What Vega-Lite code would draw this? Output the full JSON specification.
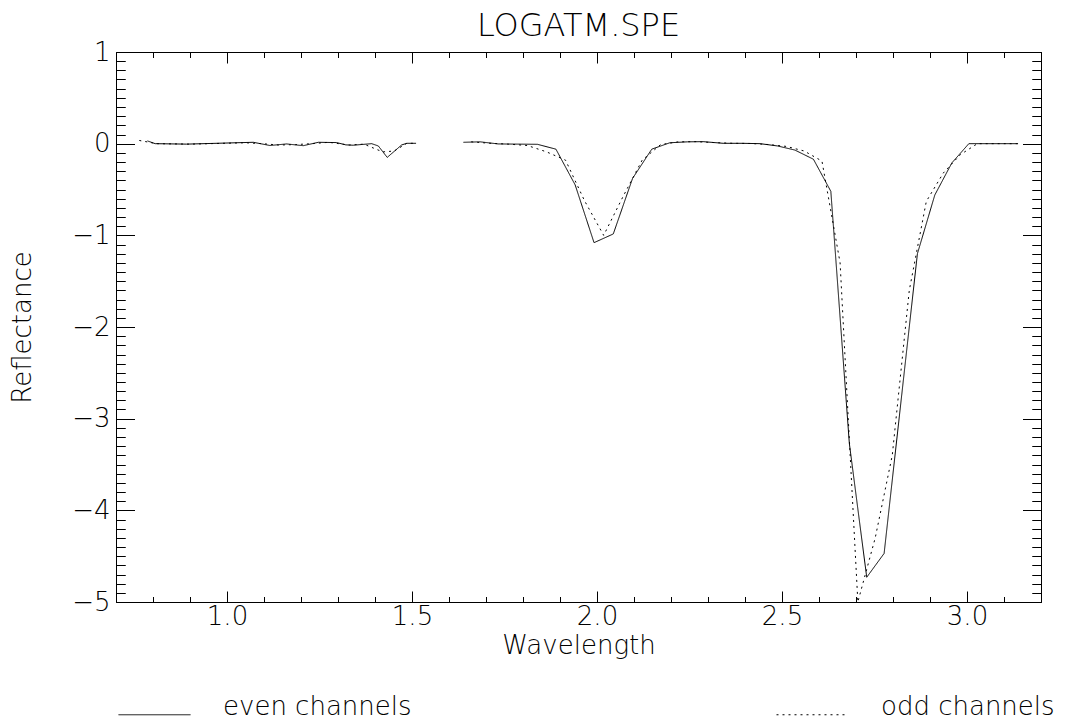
{
  "$schema": "https://vega.github.io/schema/vega-lite/v6.json",
  "width": 925,
  "height": 550,
  "autosize": "none",
  "padding": {"left": 116, "top": 52, "right": 38, "bottom": 120},
  "background": "white",
  "title": {"text": "LOGATM.SPE", "font": "DejaVu Sans", "fontSize": 32, "fontWeight": 200, "color": "black", "frame": "group", "anchor": "middle", "offset": -4},
  "data": {"values": [
    {"series": "even channels", "seg": 1, "w": 0.785, "r": 0.03},
    {"series": "even channels", "seg": 1, "w": 0.806, "r": 0.0},
    {"series": "even channels", "seg": 1, "w": 0.891, "r": -0.005},
    {"series": "even channels", "seg": 1, "w": 1.071, "r": 0.015},
    {"series": "even channels", "seg": 1, "w": 1.116, "r": -0.02},
    {"series": "even channels", "seg": 1, "w": 1.161, "r": -0.003},
    {"series": "even channels", "seg": 1, "w": 1.206, "r": -0.022},
    {"series": "even channels", "seg": 1, "w": 1.247, "r": 0.015},
    {"series": "even channels", "seg": 1, "w": 1.296, "r": 0.012},
    {"series": "even channels", "seg": 1, "w": 1.321, "r": -0.013},
    {"series": "even channels", "seg": 1, "w": 1.341, "r": -0.017},
    {"series": "even channels", "seg": 1, "w": 1.391, "r": 0.0},
    {"series": "even channels", "seg": 1, "w": 1.409, "r": -0.025},
    {"series": "even channels", "seg": 1, "w": 1.433, "r": -0.15},
    {"series": "even channels", "seg": 1, "w": 1.472, "r": -0.014},
    {"series": "even channels", "seg": 1, "w": 1.486, "r": 0.004},
    {"series": "even channels", "seg": 1, "w": 1.511, "r": 0.004},
    {"series": "even channels", "seg": 2, "w": 1.639, "r": 0.015},
    {"series": "even channels", "seg": 2, "w": 1.684, "r": 0.02},
    {"series": "even channels", "seg": 2, "w": 1.733, "r": -0.003},
    {"series": "even channels", "seg": 2, "w": 1.786, "r": -0.005},
    {"series": "even channels", "seg": 2, "w": 1.839, "r": -0.007},
    {"series": "even channels", "seg": 2, "w": 1.889, "r": -0.06},
    {"series": "even channels", "seg": 2, "w": 1.941, "r": -0.45},
    {"series": "even channels", "seg": 2, "w": 1.992, "r": -1.08},
    {"series": "even channels", "seg": 2, "w": 2.044, "r": -0.985},
    {"series": "even channels", "seg": 2, "w": 2.096, "r": -0.38},
    {"series": "even channels", "seg": 2, "w": 2.148, "r": -0.06},
    {"series": "even channels", "seg": 2, "w": 2.197, "r": 0.01},
    {"series": "even channels", "seg": 2, "w": 2.245, "r": 0.02},
    {"series": "even channels", "seg": 2, "w": 2.287, "r": 0.022},
    {"series": "even channels", "seg": 2, "w": 2.341, "r": 0.004},
    {"series": "even channels", "seg": 2, "w": 2.392, "r": 0.004},
    {"series": "even channels", "seg": 2, "w": 2.441, "r": 0.0},
    {"series": "even channels", "seg": 2, "w": 2.488, "r": -0.025},
    {"series": "even channels", "seg": 2, "w": 2.535, "r": -0.07},
    {"series": "even channels", "seg": 2, "w": 2.585, "r": -0.17},
    {"series": "even channels", "seg": 2, "w": 2.632, "r": -0.52},
    {"series": "even channels", "seg": 2, "w": 2.682, "r": -3.27},
    {"series": "even channels", "seg": 2, "w": 2.729, "r": -4.73},
    {"series": "even channels", "seg": 2, "w": 2.776, "r": -4.47},
    {"series": "even channels", "seg": 2, "w": 2.866, "r": -1.2},
    {"series": "even channels", "seg": 2, "w": 2.913, "r": -0.56},
    {"series": "even channels", "seg": 2, "w": 2.959, "r": -0.21},
    {"series": "even channels", "seg": 2, "w": 3.005, "r": 0.0},
    {"series": "even channels", "seg": 2, "w": 3.052, "r": 0.0},
    {"series": "even channels", "seg": 2, "w": 3.098, "r": 0.0},
    {"series": "even channels", "seg": 2, "w": 3.138, "r": 0.0},
    {"series": "odd channels", "seg": 1, "w": 0.763, "r": 0.035},
    {"series": "odd channels", "seg": 1, "w": 0.81, "r": 0.0},
    {"series": "odd channels", "seg": 1, "w": 0.9, "r": -0.005},
    {"series": "odd channels", "seg": 1, "w": 1.05, "r": 0.01},
    {"series": "odd channels", "seg": 1, "w": 1.095, "r": 0.0},
    {"series": "odd channels", "seg": 1, "w": 1.14, "r": -0.015},
    {"series": "odd channels", "seg": 1, "w": 1.185, "r": -0.01},
    {"series": "odd channels", "seg": 1, "w": 1.23, "r": 0.0},
    {"series": "odd channels", "seg": 1, "w": 1.275, "r": 0.015},
    {"series": "odd channels", "seg": 1, "w": 1.33, "r": -0.015},
    {"series": "odd channels", "seg": 1, "w": 1.37, "r": -0.005},
    {"series": "odd channels", "seg": 1, "w": 1.421, "r": -0.09},
    {"series": "odd channels", "seg": 1, "w": 1.452, "r": -0.08},
    {"series": "odd channels", "seg": 1, "w": 1.486, "r": 0.004},
    {"series": "odd channels", "seg": 1, "w": 1.511, "r": 0.004},
    {"series": "odd channels", "seg": 2, "w": 1.66, "r": 0.02},
    {"series": "odd channels", "seg": 2, "w": 1.708, "r": 0.005},
    {"series": "odd channels", "seg": 2, "w": 1.76, "r": -0.005},
    {"series": "odd channels", "seg": 2, "w": 1.812, "r": -0.02},
    {"series": "odd channels", "seg": 2, "w": 1.864, "r": -0.09},
    {"series": "odd channels", "seg": 2, "w": 1.915, "r": -0.18},
    {"series": "odd channels", "seg": 2, "w": 1.966, "r": -0.62},
    {"series": "odd channels", "seg": 2, "w": 2.018, "r": -1.0},
    {"series": "odd channels", "seg": 2, "w": 2.07, "r": -0.58},
    {"series": "odd channels", "seg": 2, "w": 2.122, "r": -0.18},
    {"series": "odd channels", "seg": 2, "w": 2.172, "r": -0.01},
    {"series": "odd channels", "seg": 2, "w": 2.22, "r": 0.02},
    {"series": "odd channels", "seg": 2, "w": 2.268, "r": 0.022},
    {"series": "odd channels", "seg": 2, "w": 2.316, "r": 0.012},
    {"series": "odd channels", "seg": 2, "w": 2.366, "r": 0.004},
    {"series": "odd channels", "seg": 2, "w": 2.416, "r": 0.002},
    {"series": "odd channels", "seg": 2, "w": 2.465, "r": -0.01},
    {"series": "odd channels", "seg": 2, "w": 2.512, "r": -0.03},
    {"series": "odd channels", "seg": 2, "w": 2.56, "r": -0.08},
    {"series": "odd channels", "seg": 2, "w": 2.608, "r": -0.19},
    {"series": "odd channels", "seg": 2, "w": 2.657, "r": -1.3},
    {"series": "odd channels", "seg": 2, "w": 2.705, "r": -5.0},
    {"series": "odd channels", "seg": 2, "w": 2.752, "r": -4.3},
    {"series": "odd channels", "seg": 2, "w": 2.798, "r": -3.4},
    {"series": "odd channels", "seg": 2, "w": 2.844, "r": -1.6},
    {"series": "odd channels", "seg": 2, "w": 2.89, "r": -0.63},
    {"series": "odd channels", "seg": 2, "w": 2.936, "r": -0.32},
    {"series": "odd channels", "seg": 2, "w": 2.982, "r": -0.12},
    {"series": "odd channels", "seg": 2, "w": 3.028, "r": 0.0},
    {"series": "odd channels", "seg": 2, "w": 3.075, "r": 0.0},
    {"series": "odd channels", "seg": 2, "w": 3.12, "r": 0.0},
    {"series": "odd channels", "seg": 2, "w": 3.138, "r": 0.0}
  ]},
  "layer": [
    {
      "mark": {"type": "line", "color": "black", "strokeWidth": 1, "clip": true},
      "encoding": {
        "x": {"field": "w", "type": "quantitative", "scale": {"domain": [0.7, 3.2], "nice": false, "zero": false},
          "axis": {"orient": "bottom", "values": [1, 1.5, 2, 2.5, 3], "format": ".1f", "tickSize": -11, "labelPadding": 12, "domain": true,
            "title": "Wavelength", "titlePadding": 3}},
        "y": {"field": "r", "type": "quantitative", "scale": {"domain": [-5, 1], "nice": false, "zero": false},
          "axis": {"orient": "left", "values": [-5, -4, -3, -2, -1, 0, 1], "format": "d", "tickSize": -18.5, "labelPadding": 24.5, "domain": true,
            "title": "Reflectance", "titlePadding": 36}},
        "strokeDash": {"field": "series", "type": "nominal",
          "scale": {"domain": ["even channels", "odd channels"], "range": [[1, 0], [2, 4]]},
          "legend": {"orient": "none", "legendX": 2, "legendY": 626, "direction": "horizontal", "columns": 2, "columnPadding": 362,
            "title": null, "symbolType": "stroke", "symbolSize": 5184, "symbolStrokeWidth": 1, "symbolStrokeColor": "black",
            "labelFont": "DejaVu Sans", "labelFontSize": 26, "labelFontWeight": 200, "labelColor": "black", "labelOffset": 32, "labelBaseline": "alphabetic", "labelLimit": 0, "padding": 0}},
        "detail": {"field": "seg", "type": "nominal"}
      }
    },
    {
      "mark": {"type": "line", "strokeOpacity": 0},
      "encoding": {
        "x": {"field": "w", "type": "quantitative", "scale": {"domain": [0.7, 3.2], "nice": false, "zero": false},
          "axis": {"orient": "bottom", "values": [0.7, 0.8, 0.9, 1.0, 1.1, 1.2, 1.3, 1.4, 1.5, 1.6, 1.7, 1.8, 1.9, 2.0, 2.1, 2.2, 2.3, 2.4, 2.5, 2.6, 2.7, 2.8, 2.9, 3.0, 3.1, 3.2], "tickSize": -5.5, "labels": false, "domain": false, "title": null}},
        "y": {"field": "r", "type": "quantitative", "scale": {"domain": [-5, 1], "nice": false, "zero": false},
          "axis": {"orient": "left", "values": [-5.0, -4.9, -4.8, -4.7, -4.6, -4.5, -4.4, -4.3, -4.2, -4.1, -4.0, -3.9, -3.8, -3.7, -3.6, -3.5, -3.4, -3.3, -3.2, -3.1, -3.0, -2.9, -2.8, -2.7, -2.6, -2.5, -2.4, -2.3, -2.2, -2.1, -2.0, -1.9, -1.8, -1.7, -1.6, -1.5, -1.4, -1.3, -1.2, -1.1, -1.0, -0.9, -0.8, -0.7, -0.6, -0.5, -0.4, -0.3, -0.2, -0.1, 0.0, 0.1, 0.2, 0.3, 0.4, 0.5, 0.6, 0.7, 0.8, 0.9, 1.0], "tickSize": -9.25, "labels": false, "domain": false, "title": null}},
        "detail": {"field": "seg", "type": "nominal"}
      }
    },
    {
      "mark": {"type": "line", "strokeOpacity": 0},
      "encoding": {
        "x": {"field": "w", "type": "quantitative", "scale": {"domain": [0.7, 3.2], "nice": false, "zero": false},
          "axis": {"orient": "top", "values": [1, 1.5, 2, 2.5, 3], "tickSize": -11, "labels": false, "domain": true, "title": null}},
        "y": {"field": "r", "type": "quantitative", "scale": {"domain": [-5, 1], "nice": false, "zero": false},
          "axis": {"orient": "right", "values": [-5, -4, -3, -2, -1, 0, 1], "tickSize": -18.5, "labels": false, "domain": true, "title": null}},
        "detail": {"field": "seg", "type": "nominal"}
      }
    },
    {
      "mark": {"type": "line", "strokeOpacity": 0},
      "encoding": {
        "x": {"field": "w", "type": "quantitative", "scale": {"domain": [0.7, 3.2], "nice": false, "zero": false},
          "axis": {"orient": "top", "values": [0.7, 0.8, 0.9, 1.0, 1.1, 1.2, 1.3, 1.4, 1.5, 1.6, 1.7, 1.8, 1.9, 2.0, 2.1, 2.2, 2.3, 2.4, 2.5, 2.6, 2.7, 2.8, 2.9, 3.0, 3.1, 3.2], "tickSize": -5.5, "labels": false, "domain": false, "title": null}},
        "y": {"field": "r", "type": "quantitative", "scale": {"domain": [-5, 1], "nice": false, "zero": false},
          "axis": {"orient": "right", "values": [-5.0, -4.9, -4.8, -4.7, -4.6, -4.5, -4.4, -4.3, -4.2, -4.1, -4.0, -3.9, -3.8, -3.7, -3.6, -3.5, -3.4, -3.3, -3.2, -3.1, -3.0, -2.9, -2.8, -2.7, -2.6, -2.5, -2.4, -2.3, -2.2, -2.1, -2.0, -1.9, -1.8, -1.7, -1.6, -1.5, -1.4, -1.3, -1.2, -1.1, -1.0, -0.9, -0.8, -0.7, -0.6, -0.5, -0.4, -0.3, -0.2, -0.1, 0.0, 0.1, 0.2, 0.3, 0.4, 0.5, 0.6, 0.7, 0.8, 0.9, 1.0], "tickSize": -9.25, "labels": false, "domain": false, "title": null}},
        "detail": {"field": "seg", "type": "nominal"}
      }
    }
  ],
  "resolve": {"axis": {"x": "independent", "y": "independent"}},
  "config": {
    "view": {"stroke": null},
    "axis": {"grid": false, "tickColor": "black", "tickWidth": 1, "domainColor": "black", "domainWidth": 1,
      "labelFont": "DejaVu Sans", "labelFontSize": 26, "labelFontWeight": 200, "labelColor": "black",
      "titleFont": "DejaVu Sans", "titleFontSize": 26, "titleFontWeight": 200, "titleColor": "black"}
  }
}
